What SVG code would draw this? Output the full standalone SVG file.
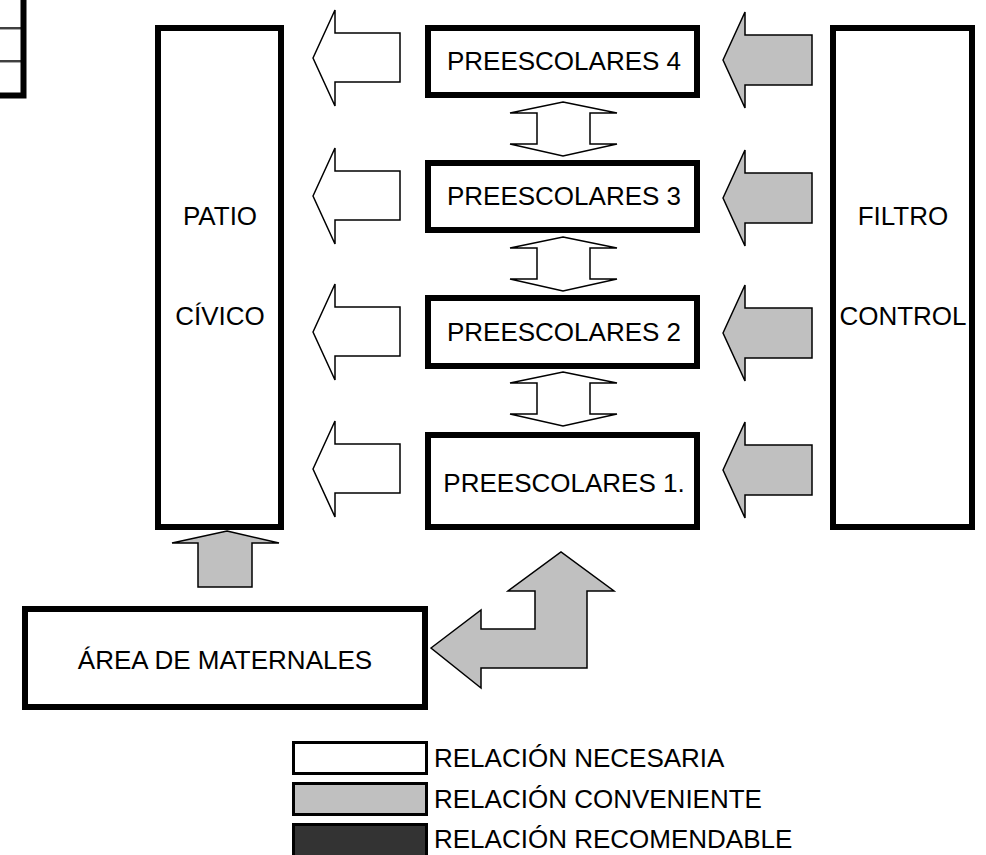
<svg xmlns="http://www.w3.org/2000/svg" width="986" height="855" viewBox="0 0 986 855">
<style>
.box{fill:#fff;stroke:#000;stroke-width:6}
.lbl{font-family:"Liberation Sans",Arial,sans-serif;font-size:26px;fill:#000}
.mid{text-anchor:middle}
.wa{fill:#fff;stroke:#000;stroke-width:1.5;stroke-linejoin:miter}
.ga{fill:#c0c0c0;stroke:#000;stroke-width:1.5;stroke-linejoin:miter}
.leg{stroke:#000;stroke-width:3}
</style>
<defs>
<polygon id="wl" class="wa" points="313,0 335,-48 335,-25 400,-25 400,24 335,24 335,48"/>
<polygon id="gl" class="ga" points="723,0 745,-48 745,-25 812,-25 812,25 745,25 745,48"/>
<polygon id="dbl" class="wa" points="563,0 617,11 590,11 590,42 617,42 563,54 510,42 537,42 537,11 510,11"/>
</defs>
<rect width="986" height="855" fill="#fff"/>
<g id="fragment">
<line x1="0" y1="28" x2="21" y2="28" stroke="#000" stroke-width="1.5"/>
<line x1="0" y1="29.5" x2="21" y2="29.5" stroke="#aaa" stroke-width="1"/>
<line x1="0" y1="61" x2="21" y2="61" stroke="#000" stroke-width="1.5"/>
<line x1="0" y1="62.5" x2="21" y2="62.5" stroke="#aaa" stroke-width="1"/>
<rect x="-20" y="-20" width="43.5" height="115.5" fill="none" stroke="#000" stroke-width="6"/>
</g>
<g id="patio">
<rect class="box" x="158" y="28" width="123" height="499"/>
<text class="lbl mid" x="220" y="225">PATIO</text>
<text class="lbl mid" x="220" y="325">CÍVICO</text>
</g>
<g id="filtro">
<rect class="box" x="833" y="28" width="139" height="499"/>
<text class="lbl mid" x="903" y="225">FILTRO</text>
<text class="lbl mid" x="903" y="325">CONTROL</text>
</g>
<g id="p4">
<rect class="box" x="428" y="28" width="269" height="67"/>
<text class="lbl mid" x="564" y="70">PREESCOLARES 4</text>
</g>
<g id="p3">
<rect class="box" x="428" y="163" width="269" height="67"/>
<text class="lbl mid" x="564" y="205">PREESCOLARES 3</text>
</g>
<g id="p2">
<rect class="box" x="428" y="298" width="269" height="68"/>
<text class="lbl mid" x="564" y="341">PREESCOLARES 2</text>
</g>
<g id="p1">
<rect class="box" x="428" y="435" width="269" height="92"/>
<text class="lbl mid" x="564" y="492">PREESCOLARES 1.</text>
</g>
<g id="maternales">
<rect class="box" x="25" y="609" width="400" height="98"/>
<text class="lbl mid" x="225" y="669">ÁREA DE MATERNALES</text>
</g>
<g id="connectors">
<use href="#wl" y="58"/>
<use href="#wl" y="196"/>
<use href="#wl" y="332"/>
<use href="#wl" y="469"/>
<use href="#gl" y="60"/>
<use href="#gl" y="198"/>
<use href="#gl" y="333"/>
<use href="#gl" y="470"/>
<use href="#dbl" y="102"/>
<use href="#dbl" y="237"/>
<use href="#dbl" y="372"/>
<polygon class="ga" points="227,531 279,543 252,543 252,587 198,587 198,543 172,543"/>
<polygon class="ga" points="431,648 481,610 481,629 535,629 535,591 508,591 561,552 614,591 587,591 587,668 481,668 481,688"/>
</g>
<g id="legend">
<rect class="leg" x="293.5" y="742.5" width="133" height="31" fill="#fff"/>
<text class="lbl" x="434" y="767">RELACIÓN NECESARIA</text>
<rect class="leg" x="293.5" y="783.5" width="133" height="31" fill="#c0c0c0"/>
<text class="lbl" x="434" y="808">RELACIÓN CONVENIENTE</text>
<rect class="leg" x="293.5" y="824.5" width="133" height="34" fill="#333"/>
<text class="lbl" x="434" y="848">RELACIÓN RECOMENDABLE</text>
</g>
</svg>
